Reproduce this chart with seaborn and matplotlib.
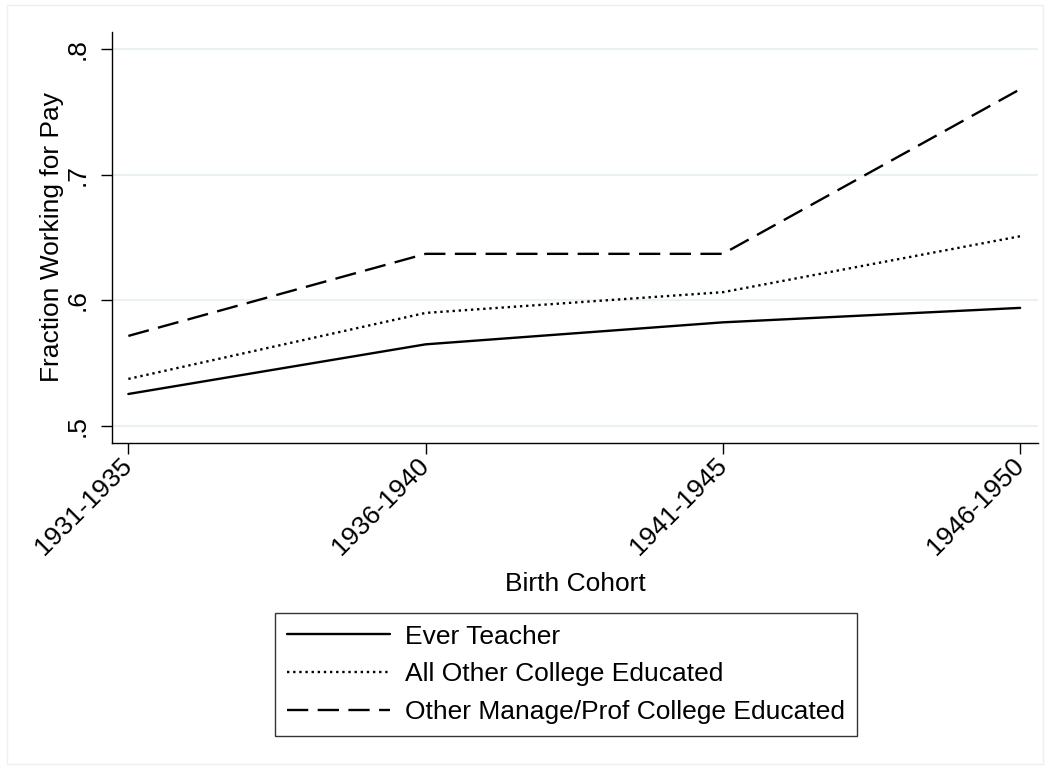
import pandas as pd
import seaborn as sns
import matplotlib.pyplot as plt
from matplotlib.patches import Rectangle

cohorts = ["1931-1935", "1936-1940", "1941-1945", "1946-1950"]
ever_teacher = [0.5255, 0.565, 0.5825, 0.594]
other_college = [0.5375, 0.590, 0.6065, 0.651]
manage_prof = [0.5717, 0.637, 0.637, 0.768]
y_ticks = [0.5, 0.6, 0.7, 0.8]
y_labels = [".5", ".6", ".7", ".8"]

series = [
    ("Ever Teacher", ever_teacher, None),
    ("All Other College Educated", other_college, (1, 1.6)),
    ("Other Manage/Prof College Educated", manage_prof, (9, 4)),
]

sns.set_style("white")
plt.rcParams["font.family"] = ["Liberation Sans", "DejaVu Sans"]
plt.rcParams["text.color"] = "black"
plt.rcParams["axes.labelcolor"] = "black"
plt.rcParams["xtick.color"] = "black"
plt.rcParams["ytick.color"] = "black"
fs = 19

fig = plt.figure(figsize=(10.5, 7.69), dpi=100)
ax = fig.add_axes([112 / 1050, 1 - 443 / 769, (1038 - 112) / 1050, (443 - 32) / 769])

for name, vals, dash in series:
    df = pd.DataFrame({"x": range(len(cohorts)), "y": vals})
    sns.lineplot(data=df, x="x", y="y", ax=ax, color="black", lw=1.7, label=name)
    ln = ax.get_lines()[-1]
    if dash is not None:
        ln.set_dashes(dash)

ax.set_xlim(-0.055, 3.06)
ax.set_ylim(0.4865, 0.8135)
ax.set_yticks(y_ticks)
ax.set_yticklabels(y_labels, rotation=90, va="center", fontsize=fs)
ax.set_xticks(range(len(cohorts)))
ax.set_xticklabels(cohorts, rotation=45, ha="right", va="center",
                   rotation_mode="anchor", fontsize=fs)
ax.tick_params(axis="both", direction="out", length=8, width=1, color="black",
               bottom=True, left=True)
ax.tick_params(axis="x", pad=6)
ax.tick_params(axis="y", pad=8)
for y in y_ticks:
    ax.axhline(y, color="#e9f1f3", lw=1.5, zorder=0)

for side in ["top", "right"]:
    ax.spines[side].set_visible(False)
for side in ["left", "bottom"]:
    ax.spines[side].set_color("black")
    ax.spines[side].set_linewidth(1)

ax.set_xlabel("Birth Cohort", fontsize=fs)
ax.set_ylabel("Fraction Working for Pay", fontsize=fs, labelpad=1)
ax.xaxis.set_label_coords(0.5, -0.315)

handles, labels = ax.get_legend_handles_labels()
ax.get_legend().remove()
leg = fig.legend(handles, labels, loc="center", bbox_to_anchor=(566 / 1050, 1 - 674.5 / 769),
                 frameon=True, fancybox=False, edgecolor="black", fontsize=fs,
                 handlelength=3.9, handletextpad=0.57, borderpad=0.45, labelspacing=0.53)
leg.get_frame().set_linewidth(1)

fig.patches.append(Rectangle((7 / 1050, 5 / 769), 1 - 14 / 1050, 1 - 10 / 769,
                             transform=fig.transFigure, fill=False, edgecolor="#e9f1f3", lw=1))

fig.savefig("out.png", dpi=100)
